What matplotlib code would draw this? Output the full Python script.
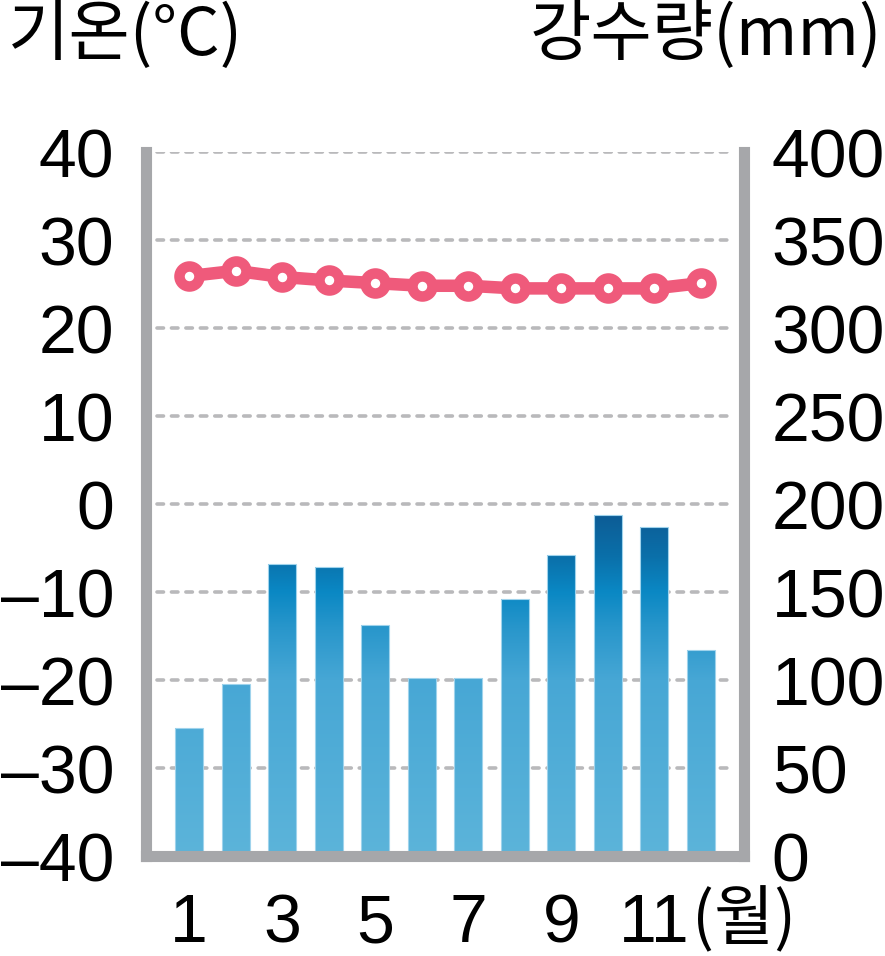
import numpy as np
import matplotlib
matplotlib.use('Agg')
import matplotlib.pyplot as plt
from matplotlib.colors import LinearSegmentedColormap

months = list(range(1, 13))
temp = [25.9, 26.5, 25.8, 25.4, 25.1, 24.8, 24.8, 24.5, 24.5, 24.5, 24.5, 25.1]
precip = [73, 98, 166, 164, 131, 101, 101, 146, 171, 194, 187, 117]

temp_ticks = list(range(-40, 41, 10))
temp_labels = [str(t) if t >= 0 else '\u2013' + str(-t) for t in temp_ticks]
precip_ticks = list(range(0, 401, 50))
month_ticks = [1, 3, 5, 7, 9, 11]

pink = '#ef5a7b'
grey = '#a6a7aa'
kr = ['Noto Sans CJK KR', 'DejaVu Sans']

plt.rcParams['font.family'] = ['Liberation Sans', 'Noto Sans CJK KR']

fig = plt.figure(figsize=(8.85, 9.56), dpi=100)
fig.patch.set_facecolor('white')
ax = fig.add_axes([146 / 885, 1 - 856 / 956, (744 - 146) / 885, (856 - 152) / 956])
ax2 = ax.twinx()
ax.set_zorder(ax2.get_zorder() + 1)
ax.patch.set_visible(False)

# bars with a vertical gradient (colour depends on height)
cmap = LinearSegmentedColormap.from_list('rain', [
    (0.0, '#5cb4da'), (0.5, '#47a7d5'), (0.65, '#2896cb'),
    (0.75, '#0a88c4'), (0.85, '#0a70aa'), (1.0, '#0e5790')])
grad = np.linspace(0, 1, 256).reshape(-1, 1)
width = 0.6
bars = ax2.bar(months, precip, width=width, facecolor='none',
               edgecolor='#9fd3ec', linewidth=0.8, zorder=2)
for b in bars:
    x0 = b.get_x()
    im = ax2.imshow(grad, extent=(x0, x0 + width, 0, 200), origin='lower',
                    cmap=cmap, aspect='auto', zorder=1.5)
    im.set_clip_path(b)

# dashed grid lines
ax2.hlines(precip_ticks[1:], 0.018, 0.98, transform=ax2.get_yaxis_transform(),
           colors='#b9b9bb', linewidth=2.6, linestyles=(0, (1.8, 2.2)),
           capstyle='round', zorder=0.5)

ax.plot(months, temp, color=pink, lw=9, marker='o', ms=14.4, mfc='white',
        mec=pink, mew=7.6, zorder=3, solid_capstyle='round')

ax.set_xlim(0.075, 12.925)
ax.set_ylim(-40, 40)
ax2.set_ylim(0, 400)

ax.set_yticks(temp_ticks)
ax.set_yticklabels(temp_labels)
ax2.set_yticks(precip_ticks)
ax.set_xticks(month_ticks)
ax.tick_params(axis='y', length=0, pad=23, labelsize=49)
ax2.tick_params(axis='y', length=0, pad=20, labelsize=49)
ax.tick_params(axis='x', length=0, pad=26, labelsize=49)

for s in ax2.spines.values():
    s.set_visible(False)
ax.spines['top'].set_visible(False)
for k in ['left', 'right', 'bottom']:
    ax.spines[k].set_color(grey)
    ax.spines[k].set_linewidth(8)
ax.spines['bottom'].set_capstyle('projecting')

ax.text(11.8, -0.092, '(월)', transform=ax.get_xaxis_transform(), ha='left',
        va='center', fontsize=47, family=kr)
fig.text(8 / 885, 1 - 2 / 956, '기온(°C)', ha='left', va='top', fontsize=48, family=kr)
fig.text(882 / 885, 1 - 2 / 956, '강수량(mm)', ha='right', va='top', fontsize=48, family=kr)

fig.savefig('out.png', dpi=100, facecolor='white')
